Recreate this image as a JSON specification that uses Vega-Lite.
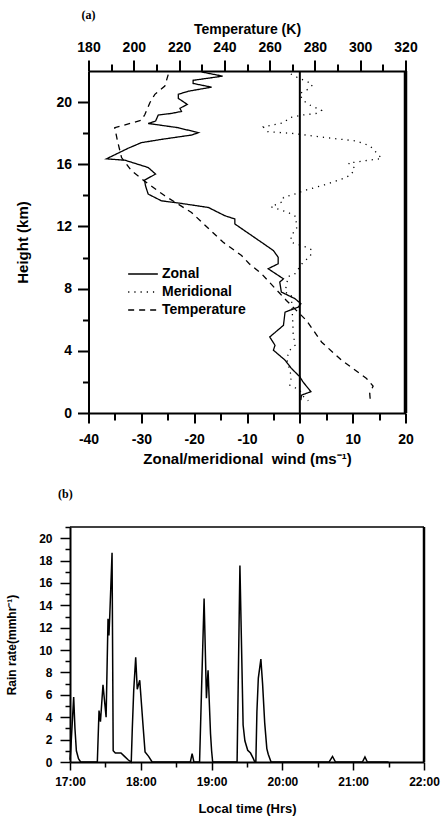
{
  "$schema": "https://vega.github.io/schema/vega-lite/v6.json",
  "padding": {"left": 5, "top": 9, "right": 5, "bottom": 4},
  "background": "white",
  "config": {
    "font": "Liberation Sans",
    "view": {"stroke": null},
    "axis": {"grid": false, "domainColor": "black", "tickColor": "black", "labelColor": "black", "titleColor": "black", "labelFontWeight": "bold", "titleFontWeight": "bold", "labelFont": "Liberation Sans", "titleFont": "Liberation Sans", "labelOverlap": false, "tickCount": 100}
  },
  "datasets": {
    "wind": [
      {"series": "Zonal", "wind": -18.6, "height": 21.94}, {"series": "Zonal", "wind": -14.6, "height": 21.67},
      {"series": "Zonal", "wind": -20.2, "height": 21.4}, {"series": "Zonal", "wind": -20.2, "height": 21.2},
      {"series": "Zonal", "wind": -16.7, "height": 20.96}, {"series": "Zonal", "wind": -21.1, "height": 20.7},
      {"series": "Zonal", "wind": -23.0, "height": 20.5}, {"series": "Zonal", "wind": -23.0, "height": 20.24},
      {"series": "Zonal", "wind": -21.3, "height": 19.85}, {"series": "Zonal", "wind": -22.7, "height": 19.6},
      {"series": "Zonal", "wind": -22.4, "height": 19.4}, {"series": "Zonal", "wind": -24.3, "height": 19.27},
      {"series": "Zonal", "wind": -26.8, "height": 19.17}, {"series": "Zonal", "wind": -27.3, "height": 18.78},
      {"series": "Zonal", "wind": -28.7, "height": 18.62}, {"series": "Zonal", "wind": -27.5, "height": 18.57},
      {"series": "Zonal", "wind": -23.0, "height": 18.35}, {"series": "Zonal", "wind": -19.2, "height": 18.03},
      {"series": "Zonal", "wind": -20.5, "height": 17.88}, {"series": "Zonal", "wind": -26.2, "height": 17.6},
      {"series": "Zonal", "wind": -30.0, "height": 17.39}, {"series": "Zonal", "wind": -32.5, "height": 17.03},
      {"series": "Zonal", "wind": -36.6, "height": 16.35}, {"series": "Zonal", "wind": -33.1, "height": 16.26},
      {"series": "Zonal", "wind": -28.7, "height": 15.79}, {"series": "Zonal", "wind": -27.3, "height": 15.37},
      {"series": "Zonal", "wind": -29.4, "height": 14.98}, {"series": "Zonal", "wind": -29.2, "height": 14.6},
      {"series": "Zonal", "wind": -28.7, "height": 14.08}, {"series": "Zonal", "wind": -26.2, "height": 13.65},
      {"series": "Zonal", "wind": -22.4, "height": 13.48}, {"series": "Zonal", "wind": -17.3, "height": 13.22},
      {"series": "Zonal", "wind": -14.2, "height": 12.69}, {"series": "Zonal", "wind": -12.3, "height": 12.48},
      {"series": "Zonal", "wind": -12.3, "height": 12.16}, {"series": "Zonal", "wind": -7.25, "height": 10.98},
      {"series": "Zonal", "wind": -5.0, "height": 10.45}, {"series": "Zonal", "wind": -4.1, "height": 10.02},
      {"series": "Zonal", "wind": -4.1, "height": 9.6}, {"series": "Zonal", "wind": -6.0, "height": 9.28},
      {"series": "Zonal", "wind": -3.1, "height": 8.63}, {"series": "Zonal", "wind": -3.8, "height": 8.42},
      {"series": "Zonal", "wind": -3.5, "height": 7.78}, {"series": "Zonal", "wind": -0.9, "height": 7.35},
      {"series": "Zonal", "wind": 0.2, "height": 7.03}, {"series": "Zonal", "wind": -0.3, "height": 6.81},
      {"series": "Zonal", "wind": -2.8, "height": 6.49}, {"series": "Zonal", "wind": -3.1, "height": 5.64},
      {"series": "Zonal", "wind": -5.7, "height": 4.89}, {"series": "Zonal", "wind": -4.7, "height": 4.36},
      {"series": "Zonal", "wind": -5.0, "height": 4.04}, {"series": "Zonal", "wind": -2.8, "height": 3.4},
      {"series": "Zonal", "wind": -1.6, "height": 2.87}, {"series": "Zonal", "wind": 0.0, "height": 2.33},
      {"series": "Zonal", "wind": 0.6, "height": 2.0}, {"series": "Zonal", "wind": 2.1, "height": 1.37},
      {"series": "Zonal", "wind": 0.3, "height": 1.15}, {"series": "Zonal", "wind": 0.2, "height": 0.83},
      {"series": "Meridional", "wind": -1.7, "height": 21.81}, {"series": "Meridional", "wind": 0.0, "height": 21.5},
      {"series": "Meridional", "wind": 1.3, "height": 21.35}, {"series": "Meridional", "wind": 2.4, "height": 21.09},
      {"series": "Meridional", "wind": 1.3, "height": 20.77}, {"series": "Meridional", "wind": 0.0, "height": 20.56},
      {"series": "Meridional", "wind": 0.5, "height": 20.13}, {"series": "Meridional", "wind": 1.9, "height": 19.81},
      {"series": "Meridional", "wind": 4.1, "height": 19.47}, {"series": "Meridional", "wind": 3.35, "height": 19.28},
      {"series": "Meridional", "wind": 0.6, "height": 19.17}, {"series": "Meridional", "wind": -1.9, "height": 19.0},
      {"series": "Meridional", "wind": -3.1, "height": 18.67}, {"series": "Meridional", "wind": -6.9, "height": 18.4},
      {"series": "Meridional", "wind": -6.1, "height": 18.1}, {"series": "Meridional", "wind": -0.9, "height": 17.97},
      {"series": "Meridional", "wind": 1.6, "height": 17.86}, {"series": "Meridional", "wind": 6.6, "height": 17.65},
      {"series": "Meridional", "wind": 10.7, "height": 17.5}, {"series": "Meridional", "wind": 13.3, "height": 17.18},
      {"series": "Meridional", "wind": 14.5, "height": 16.75}, {"series": "Meridional", "wind": 15.5, "height": 16.37},
      {"series": "Meridional", "wind": 13.0, "height": 16.26}, {"series": "Meridional", "wind": 9.2, "height": 16.07},
      {"series": "Meridional", "wind": 10.4, "height": 15.75}, {"series": "Meridional", "wind": 9.7, "height": 15.32},
      {"series": "Meridional", "wind": 8.2, "height": 15.08}, {"series": "Meridional", "wind": 4.7, "height": 14.68},
      {"series": "Meridional", "wind": 0.6, "height": 14.29}, {"series": "Meridional", "wind": -0.6, "height": 14.12},
      {"series": "Meridional", "wind": -3.1, "height": 13.87}, {"series": "Meridional", "wind": -3.1, "height": 13.61},
      {"series": "Meridional", "wind": -5.5, "height": 13.27}, {"series": "Meridional", "wind": -2.2, "height": 12.9},
      {"series": "Meridional", "wind": -0.75, "height": 12.63}, {"series": "Meridional", "wind": -0.6, "height": 11.84},
      {"series": "Meridional", "wind": -1.7, "height": 11.41}, {"series": "Meridional", "wind": -1.6, "height": 10.98},
      {"series": "Meridional", "wind": 0.95, "height": 10.7}, {"series": "Meridional", "wind": 2.2, "height": 10.51},
      {"series": "Meridional", "wind": 2.0, "height": 10.08}, {"series": "Meridional", "wind": 0.6, "height": 9.7},
      {"series": "Meridional", "wind": -0.9, "height": 8.96}, {"series": "Meridional", "wind": -2.2, "height": 8.78},
      {"series": "Meridional", "wind": -2.8, "height": 7.78}, {"series": "Meridional", "wind": -1.6, "height": 7.56},
      {"series": "Meridional", "wind": -1.3, "height": 5.64}, {"series": "Meridional", "wind": -1.3, "height": 5.21},
      {"series": "Meridional", "wind": -0.9, "height": 4.36}, {"series": "Meridional", "wind": -1.9, "height": 4.04},
      {"series": "Meridional", "wind": -2.5, "height": 3.5}, {"series": "Meridional", "wind": -1.6, "height": 2.33},
      {"series": "Meridional", "wind": -1.9, "height": 1.79}, {"series": "Meridional", "wind": 0.0, "height": 1.47},
      {"series": "Meridional", "wind": 0.6, "height": 1.09}, {"series": "Meridional", "wind": 1.6, "height": 0.79}
    ],
    "temp": [
      {"series": "Temperature", "temp": 215.2, "height": 21.77}, {"series": "Temperature", "temp": 213.7, "height": 21.03},
      {"series": "Temperature", "temp": 209.3, "height": 20.5}, {"series": "Temperature", "temp": 207.1, "height": 19.96},
      {"series": "Temperature", "temp": 204.9, "height": 19.2}, {"series": "Temperature", "temp": 203.4, "height": 18.83},
      {"series": "Temperature", "temp": 191.6, "height": 18.35}, {"series": "Temperature", "temp": 192.8, "height": 17.5},
      {"series": "Temperature", "temp": 194.6, "height": 16.43}, {"series": "Temperature", "temp": 199.0, "height": 15.58},
      {"series": "Temperature", "temp": 204.9, "height": 14.9}, {"series": "Temperature", "temp": 213.7, "height": 13.97},
      {"series": "Temperature", "temp": 225.5, "height": 12.9}, {"series": "Temperature", "temp": 239.5, "height": 10.98},
      {"series": "Temperature", "temp": 247.6, "height": 10.13}, {"series": "Temperature", "temp": 251.0, "height": 9.6},
      {"series": "Temperature", "temp": 256.4, "height": 8.96}, {"series": "Temperature", "temp": 267.4, "height": 7.24},
      {"series": "Temperature", "temp": 276.2, "height": 5.96}, {"series": "Temperature", "temp": 282.9, "height": 4.57},
      {"series": "Temperature", "temp": 291.7, "height": 3.4}, {"series": "Temperature", "temp": 302.8, "height": 2.22},
      {"series": "Temperature", "temp": 305.7, "height": 1.73}, {"series": "Temperature", "temp": 304.2, "height": 1.26},
      {"series": "Temperature", "temp": 304.5, "height": 0.72}
    ],
    "rain": [
      {"time": 17.0, "rate": 0.2}, {"time": 17.01, "rate": 1.0}, {"time": 17.052, "rate": 5.8}, {"time": 17.07, "rate": 3.0},
      {"time": 17.09, "rate": 1.0}, {"time": 17.12, "rate": 0.3}, {"time": 17.15, "rate": 0.0}, {"time": 17.386, "rate": 0.0},
      {"time": 17.41, "rate": 4.6}, {"time": 17.43, "rate": 3.6}, {"time": 17.466, "rate": 6.9}, {"time": 17.51, "rate": 4.0},
      {"time": 17.537, "rate": 12.8}, {"time": 17.55, "rate": 11.3}, {"time": 17.56, "rate": 12.8}, {"time": 17.594, "rate": 18.7},
      {"time": 17.61, "rate": 1.0}, {"time": 17.64, "rate": 0.8}, {"time": 17.72, "rate": 0.8}, {"time": 17.77, "rate": 0.5},
      {"time": 17.82, "rate": 0.2}, {"time": 17.865, "rate": 0.0}, {"time": 17.88, "rate": 3.0}, {"time": 17.9, "rate": 6.4},
      {"time": 17.928, "rate": 9.35}, {"time": 17.95, "rate": 6.5}, {"time": 17.985, "rate": 7.3}, {"time": 18.03, "rate": 3.4},
      {"time": 18.06, "rate": 0.9}, {"time": 18.11, "rate": 0.5}, {"time": 18.16, "rate": 0.0}, {"time": 18.7, "rate": 0.0},
      {"time": 18.725, "rate": 0.75}, {"time": 18.75, "rate": 0.0}, {"time": 18.83, "rate": 0.0}, {"time": 18.856, "rate": 6.0},
      {"time": 18.894, "rate": 14.6}, {"time": 18.927, "rate": 5.7}, {"time": 18.95, "rate": 8.2}, {"time": 18.985, "rate": 2.5},
      {"time": 19.0, "rate": 1.0}, {"time": 19.015, "rate": 0.0}, {"time": 19.36, "rate": 0.0}, {"time": 19.4, "rate": 17.55},
      {"time": 19.445, "rate": 3.3}, {"time": 19.47, "rate": 1.9}, {"time": 19.51, "rate": 1.05}, {"time": 19.55, "rate": 0.8},
      {"time": 19.59, "rate": 0.3}, {"time": 19.61, "rate": 0.0}, {"time": 19.625, "rate": 0.0}, {"time": 19.64, "rate": 4.5},
      {"time": 19.66, "rate": 7.5}, {"time": 19.696, "rate": 9.2}, {"time": 19.72, "rate": 7.0}, {"time": 19.75, "rate": 3.5},
      {"time": 19.78, "rate": 1.2}, {"time": 19.8, "rate": 0.7}, {"time": 19.84, "rate": 0.0}, {"time": 20.66, "rate": 0.0},
      {"time": 20.708, "rate": 0.5}, {"time": 20.75, "rate": 0.0}, {"time": 21.13, "rate": 0.0}, {"time": 21.166, "rate": 0.45},
      {"time": 21.2, "rate": 0.0}, {"time": 21.5, "rate": 0.0}
    ]
  },
  "concat": [
    {
      "width": 317,
      "height": 342,
      "title": {"text": "(a)", "font": "Liberation Serif", "fontSize": 12, "fontWeight": "bold", "anchor": "start", "frame": "group", "dx": -7, "offset": 0, "color": "black"},
      "layer": [
        {
          "layer": [
            {
              "data": {"values": [{}]},
              "mark": {"type": "rule", "color": "black", "strokeWidth": 2},
              "encoding": {"x": {"datum": 0, "type": "quantitative"}}
            },
            {
              "data": {"values": [{}]},
              "mark": {"type": "rule", "color": "black", "strokeWidth": 3.5},
              "encoding": {"x": {"datum": 20, "type": "quantitative"}}
            },
            {
              "data": {"name": "wind"},
              "mark": {"type": "line", "color": "black", "strokeWidth": 1.3},
              "encoding": {
                "x": {"field": "wind", "type": "quantitative", "scale": {"domain": [-40, 20], "nice": false, "zero": false},
                  "axis": {"orient": "bottom", "values": [-40, -35, -30, -25, -20, -15, -10, -5, 0, 5, 10, 15, 20], "tickCount": 100,
                    "labelExpr": "datum.value % 10 === 0 ? replace(format(datum.value, 'd'), '\u2212', '-') : ''",
                    "tickSize": {"condition": {"test": "datum.value % 10 === 0", "value": 10}, "value": 7},
                    "tickWidth": 2, "domainWidth": 2, "labelFontSize": 14, "labelPadding": 9, "labelFlush": false, "labelOverlap": false,
                    "title": "Zonal/meridional \u00a0wind (ms\u207b\u00b9)", "titleFontSize": 15, "titlePadding": 5}},
                "y": {"field": "height", "type": "quantitative", "scale": {"domain": [0, 22], "nice": false},
                  "axis": {"values": [0, 2, 4, 6, 8, 10, 12, 14, 16, 18, 20], "tickCount": 100,
                    "labelExpr": "datum.value % 4 === 0 ? format(datum.value, 'd') : ''",
                    "tickSize": {"condition": {"test": "datum.value % 4 === 0", "value": 11}, "value": 6},
                    "tickWidth": 2, "domainWidth": 2, "labelFontSize": 14, "labelPadding": 6, "labelFlush": false, "labelOverlap": false,
                    "title": "Height (km)", "titleFontSize": 15, "titlePadding": 25}},
                "strokeDash": {"field": "series", "type": "nominal",
                  "scale": {"domain": ["Zonal", "Meridional", "Temperature"], "range": [[1, 0], [1.2, 5], [6, 5]]},
                  "legend": {"orient": "none", "legendX": 63, "legendY": 193, "title": null, "labelFontSize": 14, "labelFontWeight": "bold",
                    "labelFont": "Liberation Sans", "labelColor": "black", "symbolType": "M-1.65,0H1.65", "symbolSize": 324, "symbolStrokeWidth": 1.3,
                    "symbolStrokeColor": "black", "symbolFillColor": "transparent", "labelOffset": 9, "rowPadding": 1}},
                "order": {"field": "height", "type": "quantitative", "sort": "descending"}
              }
            }
          ]
        },
        {
          "data": {"name": "temp"},
          "mark": {"type": "line", "color": "black", "strokeWidth": 1.3},
          "encoding": {
            "x": {"field": "temp", "type": "quantitative", "scale": {"domain": [180, 320], "nice": false, "zero": false},
              "axis": {"orient": "top", "values": [180, 190, 200, 210, 220, 230, 240, 250, 260, 270, 280, 290, 300, 310, 320], "tickCount": 100,
                "labelExpr": "datum.value % 20 === 0 ? format(datum.value, 'd') : ''",
                "tickSize": {"condition": {"test": "datum.value % 20 === 0", "value": 11}, "value": 7},
                "tickWidth": 2, "domainWidth": 2, "labelFontSize": 14, "labelPadding": 6, "labelFlush": false, "labelOverlap": false,
                "title": "Temperature (K)", "titleFontSize": 14, "titlePadding": 4}},
            "y": {"field": "height", "type": "quantitative", "scale": {"domain": [0, 22], "nice": false}},
            "strokeDash": {"field": "series", "type": "nominal"},
            "order": {"field": "height", "type": "quantitative", "sort": "descending"}
          }
        }
      ],
      "resolve": {"scale": {"x": "independent"}}
    },
    {
      "width": 354,
      "height": 235,
      "title": {"text": "(b)", "font": "Liberation Serif", "fontSize": 12, "fontWeight": "bold", "anchor": "start", "frame": "group", "dx": -12, "offset": 20, "color": "black"},
      "layer": [
        {
          "data": {"values": [{}]},
          "mark": {"type": "rule", "color": "black", "strokeWidth": 2.5},
          "encoding": {"x": {"datum": 22, "type": "quantitative"}}
        },
        {
          "data": {"values": [{}]},
          "mark": {"type": "rule", "color": "black", "strokeWidth": 1.5},
          "encoding": {"y": {"datum": 21, "type": "quantitative"}}
        },
        {
          "data": {"name": "rain"},
          "mark": {"type": "line", "color": "black", "strokeWidth": 1.5},
          "encoding": {
            "x": {"field": "time", "type": "quantitative", "scale": {"domain": [17, 22], "nice": false, "zero": false},
              "axis": {"values": [17, 17.5, 18, 18.5, 19, 19.5, 20, 20.5, 21, 21.5, 22], "tickCount": 100,
                "labelExpr": "datum.value % 1 === 0 ? format(datum.value, 'd') + ':00' : ''",
                "tickSize": {"condition": {"test": "datum.value % 1 === 0", "value": 8}, "value": 5},
                "tickWidth": 1.5, "domainWidth": 2, "labelFontSize": 12, "labelPadding": 6, "labelFlush": false, "labelOverlap": false,
                "title": "Local time (Hrs)", "titleFontSize": 13, "titlePadding": 15}},
            "y": {"field": "rate", "type": "quantitative", "scale": {"domain": [0, 21], "nice": false},
              "axis": {"values": [0, 1, 2, 3, 4, 5, 6, 7, 8, 9, 10, 11, 12, 13, 14, 15, 16, 17, 18, 19, 20, 21], "tickCount": 100,
                "labelExpr": "datum.value % 2 === 0 ? format(datum.value, 'd') : ''",
                "tickSize": {"condition": {"test": "datum.value % 2 === 0", "value": 10}, "value": 5},
                "tickWidth": 1.5, "domainWidth": 2, "labelFontSize": 12, "labelPadding": 8, "labelFlush": false, "labelOverlap": false,
                "title": "Rain rate(mmhr\u207b\u00b9)", "titleFontSize": 12, "titlePadding": 20}}
          }
        }
      ]
    }
  ],
  "columns": 1,
  "bounds": "flush",
  "center": true,
  "spacing": 114
}
